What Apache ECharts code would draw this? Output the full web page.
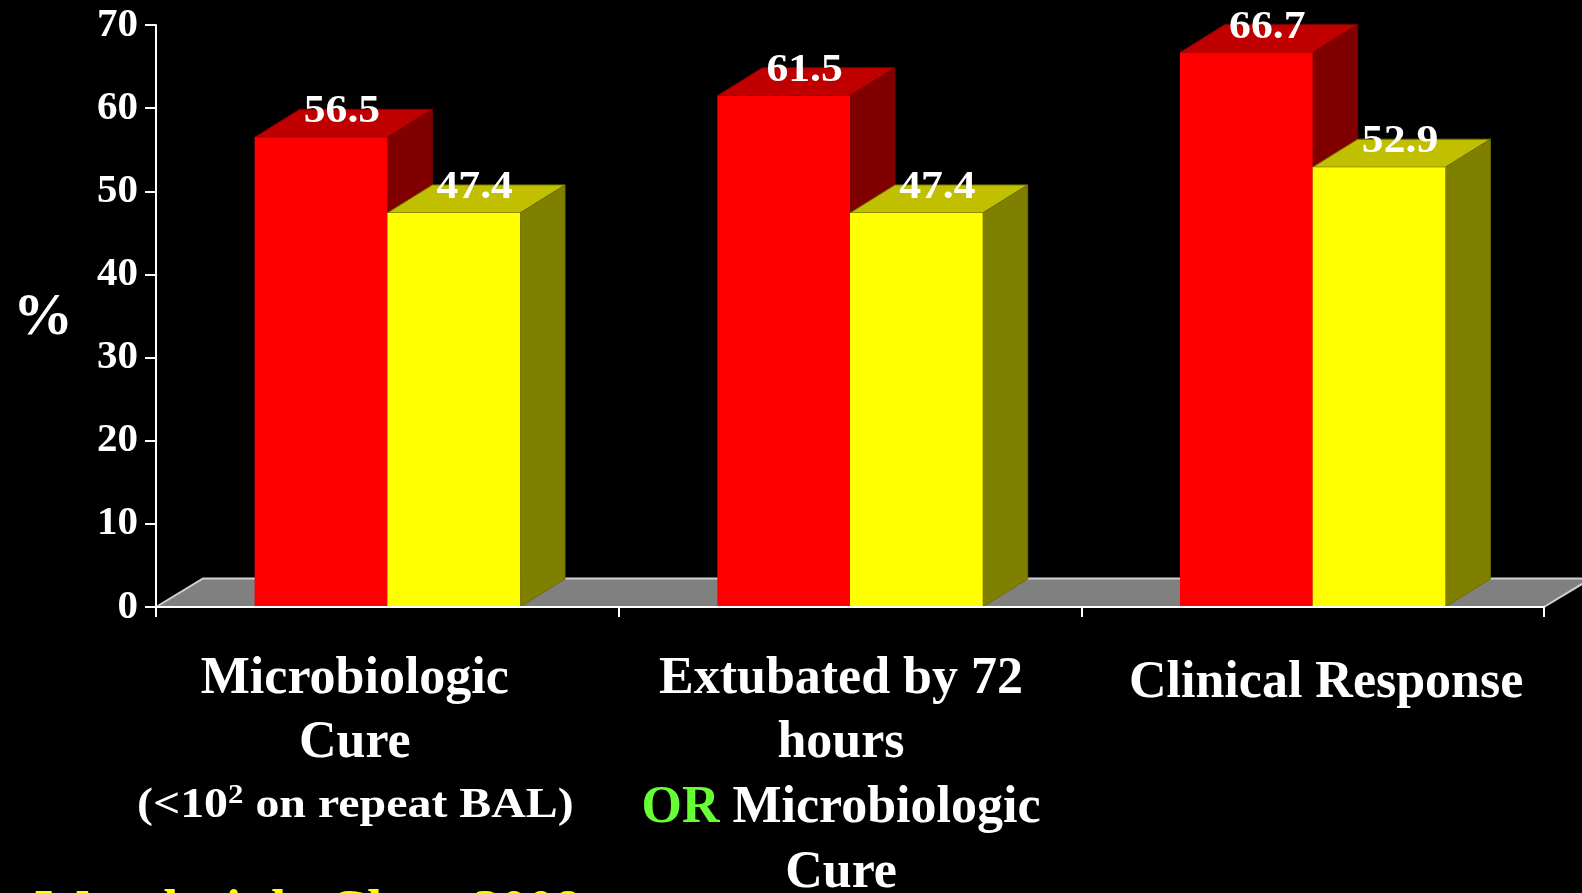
<!DOCTYPE html>
<html>
<head>
<meta charset="utf-8">
<script src="https://cdn.jsdelivr.net/npm/echarts@6/dist/echarts.min.js"></script>
<style>
  html, body { margin: 0; padding: 0; background: #000; }
  #chart { width: 1582px; height: 893px; }
</style>
</head>
<body>
<div id="chart"></div>
<script>
// ---- data ----
const categories = ['Microbiologic Cure', 'Extubated by 72 hours OR Microbiologic Cure', 'Clinical Response'];
const redValues = [56.5, 61.5, 66.7];
const yellowValues = [47.4, 47.4, 52.9];
const yMin = 0;
const yMax = 70;
const yStep = 10;
const yAxisTitle = '%';
const categoryLines = [
  ['Microbiologic', 'Cure'],
  ['Extubated by 72', 'hours', '{g|OR} Microbiologic', 'Cure'],
  ['Clinical Response']
];
const categoryNote = '(<10{sup|2} on repeat BAL)';
const sourceNote = 'Wunderink, Chest 2008';

// ---- styling ----
const SERIF = '"Liberation Serif", "Times New Roman", serif';
const DEPTH_X = 45;
const DEPTH_Y = -28;
const BAR_SHARE = 0.2868; // bar width as a share of one category band

const redFaces = { front: '#ff0000', top: '#c00000', side: '#800000', edge: '#7a0000' };
const yellowFaces = { front: '#ffff00', top: '#c0c000', side: '#808000', edge: '#6e6e00' };

// one 3D box per data item; side = -1 puts the bar left of the category centre, +1 right
function bar3d(faces, side) {
  return function (params, api) {
    const ci = api.value(0);
    const v = api.value(1);
    const base = api.coord([ci, 0]);
    const top = api.coord([ci, v]);
    const w = api.size([1, 0])[0] * BAR_SHARE;
    const x0 = side < 0 ? base[0] - w : base[0];
    const x1 = x0 + w;
    const yb = base[1];
    const yt = top[1];
    return {
      type: 'group',
      children: [
        {
          type: 'polygon',
          shape: { points: [[x1, yt], [x1 + DEPTH_X, yt + DEPTH_Y], [x1 + DEPTH_X, yb + DEPTH_Y], [x1, yb]] },
          style: { fill: faces.side, stroke: faces.edge, lineWidth: 1 }
        },
        {
          type: 'polygon',
          shape: { points: [[x0, yt], [x0 + DEPTH_X, yt + DEPTH_Y], [x1 + DEPTH_X, yt + DEPTH_Y], [x1, yt]] },
          style: { fill: faces.top, stroke: faces.edge, lineWidth: 1 }
        },
        {
          type: 'rect',
          shape: { x: x0, y: yt, width: w, height: yb - yt },
          style: { fill: faces.front }
        },
        {
          type: 'text',
          x: (x0 + x1) / 2 + 21,
          y: yt - 25,
          scaleX: 1.12,
          style: {
            text: v.toFixed(1),
            fill: '#ffffff',
            font: 'bold 39px ' + SERIF,
            align: 'center',
            verticalAlign: 'middle'
          }
        }
      ]
    };
  };
}

// grey floor under the bars, spanning the whole plot width
function floor(params, api) {
  const cs = params.coordSys;
  const xl = cs.x, xr = cs.x + cs.width, yf = cs.y + cs.height;
  const bl = [xl + DEPTH_X + 2, yf + DEPTH_Y - 0.5];
  const br = [xr + DEPTH_X + 2, yf + DEPTH_Y - 0.5];
  return {
    type: 'group',
    children: [
      {
        type: 'polygon',
        shape: { points: [[xl, yf], bl, br, [xr, yf]] },
        style: { fill: '#808080' }
      },
      {
        type: 'polyline',
        shape: { points: [[xl, yf], bl, br, [xr, yf]] },
        style: { stroke: '#d0d0d0', lineWidth: 2, fill: null }
      }
    ]
  };
}

const chart = echarts.init(document.getElementById('chart'));

const option = {
  backgroundColor: '#000000',
  animation: false,
  grid: {
    left: 156, right: 38, top: 25, bottom: 286,
    containLabel: false,
    outerBoundsMode: 'none'
  },
  xAxis: {
    type: 'category',
    data: categories,
    z: 10,
    axisLine: { show: true, lineStyle: { color: '#ffffff', width: 2 } },
    axisTick: { show: true, length: 10, lineStyle: { color: '#ffffff', width: 2 } },
    axisLabel: { show: false },
    splitLine: { show: false }
  },
  yAxis: {
    type: 'value',
    min: yMin,
    max: yMax,
    interval: yStep,
    axisLine: { show: true, lineStyle: { color: '#ffffff', width: 2 } },
    axisTick: { show: true, length: 11, lineStyle: { color: '#ffffff', width: 2 } },
    axisLabel: {
      color: '#ffffff',
      fontFamily: SERIF,
      fontWeight: 'bold',
      fontSize: 41,
      margin: 18
    },
    splitLine: { show: false }
  },
  series: [
    {
      type: 'custom',
      name: 'floor',
      renderItem: floor,
      data: [[0, 0]],
      z: 1,
      silent: true
    },
    {
      type: 'custom',
      name: 'red',
      renderItem: bar3d(redFaces, -1),
      data: redValues.map((v, i) => [i, v]),
      encode: { x: 0, y: 1 },
      z: 2
    },
    {
      type: 'custom',
      name: 'yellow',
      renderItem: bar3d(yellowFaces, 1),
      data: yellowValues.map((v, i) => [i, v]),
      encode: { x: 0, y: 1 },
      z: 2
    }
  ]
};

chart.setOption(option);

// category captions sit under each band, nudged as typeset on the slide
const centres = categories.map((c, i) => chart.convertToPixel({ xAxisIndex: 0 }, i));
const nudges = [-32.5, -9, 13.5];
const captionTops = [647, 647, null];
const graphics = [];

categoryLines.forEach((lines, i) => {
  const cx = centres[i] + nudges[i];
  if (lines.length === 1) {
    graphics.push({
      type: 'text',
      x: cx, y: 684,
      style: {
        text: lines[0], fill: '#ffffff', font: 'bold 52px ' + SERIF,
        align: 'center', verticalAlign: 'middle'
      }
    });
  } else {
    graphics.push({
      type: 'text',
      x: cx, y: captionTops[i],
      style: {
        text: lines.join('\n'), fill: '#ffffff', font: 'bold 52px ' + SERIF,
        lineHeight: 64.6, align: 'center', verticalAlign: 'top',
        rich: { g: { fill: '#66ff33', color: '#66ff33', font: 'bold 52px ' + SERIF, lineHeight: 64.6 } }
      }
    });
  }
});

graphics.push({
  type: 'text',
  x: centres[0] + nudges[0] + 0.5, y: 806,
  scaleX: 1.14,
  style: {
    text: categoryNote, fill: '#ffffff', font: 'bold 42px ' + SERIF,
    lineHeight: 46,
    align: 'center', verticalAlign: 'middle',
    rich: {
      sup: { fill: '#ffffff', color: '#ffffff', font: 'bold 27px ' + SERIF, verticalAlign: 'top', lineHeight: 36 }
    }
  }
});

graphics.push({
  type: 'text',
  x: 43, y: 318,
  style: {
    text: yAxisTitle, fill: '#ffffff', font: 'bold 60px ' + SERIF,
    align: 'center', verticalAlign: 'middle'
  }
});

graphics.push({
  type: 'text',
  x: 35, y: 913,
  style: {
    text: sourceNote, fill: '#ffff00', font: 'bold 54px ' + SERIF,
    align: 'left', verticalAlign: 'middle'
  }
});

chart.setOption({ graphic: graphics });
</script>
</body>
</html>
